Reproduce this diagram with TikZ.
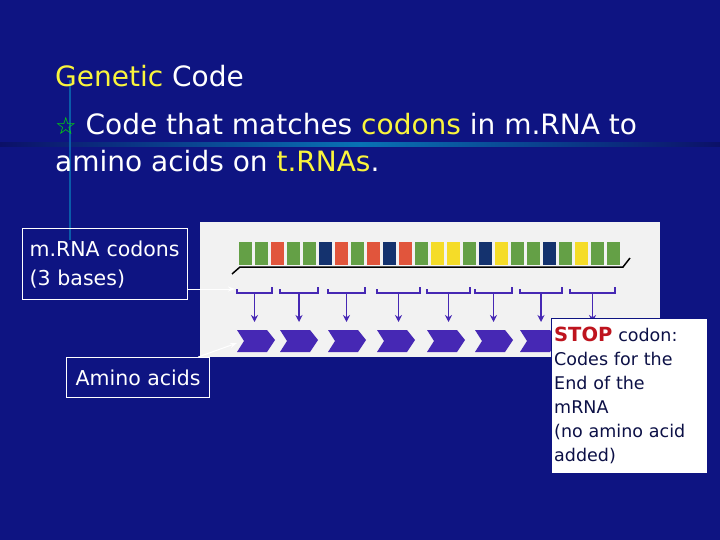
\documentclass[tikz,border=0pt]{standalone}
\usepackage{fontspec}
\setmainfont{DejaVu Sans}
\usetikzlibrary{arrows.meta}
\definecolor{bg}{RGB}{14,20,130}
\definecolor{ylw}{RGB}{250,245,60}
\definecolor{ink}{RGB}{12,16,70}
\definecolor{dred}{RGB}{190,20,30}
\definecolor{cg}{RGB}{100,160,70}
\definecolor{cr}{RGB}{225,85,60}
\definecolor{cb}{RGB}{20,50,110}
\definecolor{cy}{RGB}{245,220,40}
\definecolor{pur}{RGB}{70,40,180}
\begin{document}
\begin{tikzpicture}[x=1pt,y=-1pt,
  lbl/.style={draw=white,line width=1.2pt,text=white,align=left,inner sep=0pt,anchor=north west,font=\fontsize{20.5}{29}\selectfont},
  conn/.style={white,line width=1pt,-{Stealth[length=7pt,width=5pt]}}]
\fill[bg] (0,0) rectangle (720,540);
\useasboundingbox (0,0) rectangle (720,540);
\fill[left color=bg!80!black,right color=bg!80!black,middle color=bg!60!cyan] (0,143) rectangle (720,147);
\fill[bg!70!cyan] (69,80) rectangle (71,240);
\node[anchor=base west,inner sep=0pt,font=\fontsize{28}{30}\selectfont] (t1) at (55,87) {\textcolor{ylw}{Genetic} \textcolor{white}{Code}};
\node[anchor=base west,inner sep=0pt,font=\fontsize{28}{30}\selectfont,text=white] (t2) at (55,135) {\textcolor{green!90!black}{\fontsize{24}{24}\selectfont ☆} Code that matches \textcolor{ylw}{codons} in m.RNA to};
\node[anchor=base west,inner sep=0pt,font=\fontsize{28}{30}\selectfont,text=white] (t3) at (55,172) {amino acids on \textcolor{ylw}{t.RNAs}.};
% photo
\fill[white!90!gray] (200,222) rectangle (660,357);
\foreach \c [count=\i] in {cg,cg,cr,cg,cg,cb,cr,cg,cr,cb,cr,cg,cy,cy,cg,cb,cy,cg,cg,cb,cg,cy,cg,cg}
  \fill[\c] (223+\i*16,242) rectangle ++(13,23);
\draw[black,line width=1.5pt] (232,274) -- (240,267) -- (623,267) -- (630,258);
\foreach \a/\b [count=\i] in {237/272,280/318,328/365,377/420,427/470,475/512,520/562,570/615}{
  \draw[pur,line width=1.3pt] (\a,289) -- (\a,293) -- (\b,293) -- (\b,287);
  \draw[pur,line width=1.5pt,-{Stealth[length=7pt,width=7pt]}] ({(\a+\b)/2},293) -- ({(\a+\b)/2},322);
  \fill[pur] ({\a},330) -- ({\a+30},330) -- ({\a+38},340) -- ({\a+30},352) -- ({\a},352) -- ({\a+7},341) -- cycle;
}
\node[lbl,minimum width=165pt,minimum height=71pt,inner xsep=7pt,text width=151pt] (cod) at (22,228) {m.RNA codons\\(3 bases)};
\node[lbl,minimum width=143pt,minimum height=40pt,align=center] (amino) at (66,357) {Amino acids};
\coordinate (ca) at (235,289);
\coordinate (aa) at (237,343);
\draw[conn] (cod.east|-ca) -- (ca);
\draw[conn] (amino.north east) ++(-12,0) coordinate (as) -- (aa);
\node[fill=white,draw=bg,anchor=north west,minimum width=156pt,minimum height=155pt,text width=150pt,align=left,inner sep=3pt,text=ink,font=\fontsize{17.5}{24}\selectfont] (stop) at (551,318) {\textcolor{dred}{\bfseries\fontsize{19.5}{24}\selectfont STOP} codon:\\Codes for the\\End of the\\mRNA\\(no amino acid\\added)};
\end{tikzpicture}
\end{document}
